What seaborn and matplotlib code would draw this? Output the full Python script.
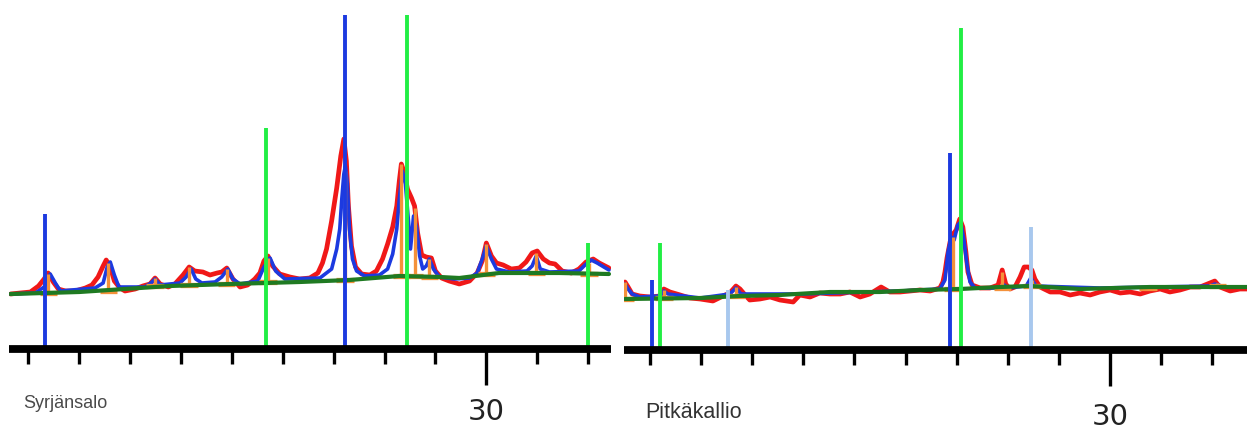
import numpy as np
import pandas as pd
import matplotlib
matplotlib.use("Agg")
import matplotlib.pyplot as plt
import seaborn as sns

sns.set_theme(style="white")
plt.rcParams['font.family'] = ['DejaVu Sans']

# ---------------- Left panel: Syrjänsalo ----------------
L_obs_x = [20.65, 20.84, 21.04, 21.20, 21.31, 21.39, 21.49, 21.59, 21.73, 21.92, 22.12, 22.25, 22.37, 22.47,
           22.53, 22.61, 22.69, 22.80, 22.90, 23.10, 23.25, 23.39, 23.49, 23.59, 23.75, 23.88, 24.04, 24.16,
           24.27, 24.43, 24.57, 24.71, 24.80, 24.90, 25.02, 25.16, 25.31, 25.45, 25.55, 25.63, 25.71, 25.80,
           25.94, 26.14, 26.33, 26.53, 26.69, 26.78, 26.86, 26.96, 27.06, 27.14, 27.20, 27.25, 27.29, 27.35,
           27.43, 27.55, 27.71, 27.84, 27.96, 28.06, 28.16, 28.24, 28.29, 28.33, 28.39, 28.45, 28.53, 28.59,
           28.65, 28.73, 28.82, 28.92, 29.00, 29.12, 29.27, 29.47, 29.67, 29.82, 29.92, 30.00, 30.10, 30.20,
           30.33, 30.49, 30.65, 30.78, 30.90, 31.00, 31.12, 31.24, 31.35, 31.49, 31.67, 31.82, 31.96, 32.10,
           32.22, 32.41]
L_obs_y = [55, 56, 57, 63, 70, 76, 67, 60, 58, 58, 61, 64, 72, 83,
           89, 82, 68, 61, 58, 60, 63, 65, 71, 65, 62, 65, 74, 82,
           78, 77, 74, 76, 77, 81, 70, 62, 64, 70, 76, 88, 93, 83,
           75, 72, 70, 71, 76, 86, 100, 128, 161, 193, 210, 188, 143, 103,
           82, 75, 74, 78, 90, 105, 122, 143, 168, 185, 176, 160, 151, 143,
           116, 94, 92, 91, 78, 71, 68, 65, 68, 76, 88, 106, 93, 86,
           84, 80, 81, 87, 96, 98, 90, 86, 85, 78, 76, 80, 87, 90,
           86, 81]

L_calc_x = [20.65, 21.14, 21.31, 21.43, 21.53, 21.63, 22.31, 22.47, 22.55, 22.61, 22.69, 22.78, 23.29, 23.41,
            23.49, 23.59, 23.98, 24.10, 24.20, 24.29, 24.41, 24.67, 24.80, 24.92, 25.02, 25.16, 25.51, 25.63,
            25.75, 25.86, 26.04, 26.73, 26.96, 27.06, 27.12, 27.16, 27.20, 27.23, 27.27, 27.31, 27.37, 27.45,
            27.61, 27.90, 28.06, 28.16, 28.24, 28.29, 28.35, 28.41, 28.47, 28.51, 28.57, 28.63, 28.69, 28.75,
            28.82, 28.88, 28.96, 29.08, 29.37, 29.67, 29.82, 29.92, 30.00, 30.10, 30.20, 30.45, 30.80, 30.90,
            30.98, 31.06, 31.24, 31.82, 31.94, 32.06, 32.18, 32.31, 32.41]
L_calc_y = [55, 56, 62, 75, 66, 58, 61, 66, 82, 87, 74, 62, 62, 66,
            70, 64, 66, 72, 80, 70, 66, 67, 72, 80, 70, 65, 68, 82,
            91, 78, 70, 71, 80, 100, 120, 150, 175, 183, 165, 120, 90, 78,
            73, 74, 80, 95, 120, 150, 178, 165, 128, 100, 133, 122, 93, 80,
            83, 90, 80, 72, 70, 71, 76, 90, 103, 90, 80, 77, 78, 83,
            93, 80, 77, 78, 84, 89, 86, 82, 79]

L_bg_x = [20.65, 22.00, 23.78, 24.96, 26.33, 27.31, 28.29, 29.08, 29.47, 30.25, 31.43, 32.41]
L_bg_y = [55, 57, 63, 65, 67, 69, 73, 72, 71, 76, 76, 75]

L_stick_x = [21.39, 22.57, 23.49, 24.16, 24.90, 25.71, 27.22, 28.33, 28.59, 28.88, 30.00, 30.98, 32.02]
L_stick_top = [75, 86, 71, 82, 80, 91, 178, 185, 141, 90, 105, 96, 86]
L_stick_base = [56, 58, 63, 64, 65, 67, 69, 73, 73, 72, 75, 76, 75]

L_ref_x = [21.33, 25.67, 27.22, 28.45, 32.00]
L_ref_top = [135, 221, 340, 340, 106]
L_ref_color = ["#1c3ae0", "#22ee44", "#1c3ae0", "#22ee44", "#22ee44"]

# ---------------- Right panel: Pitkäkallio ----------------
R_obs_x = [20.51, 20.57, 20.65, 20.80, 21.00, 21.19, 21.27, 21.39, 21.59, 21.78, 21.98, 22.23, 22.47, 22.56,
           22.68, 22.76, 22.86, 22.95, 23.15, 23.35, 23.54, 23.80, 23.93, 24.13, 24.32, 24.52, 24.72, 24.91,
           25.11, 25.30, 25.52, 25.69, 25.89, 26.09, 26.28, 26.48, 26.67, 26.73, 26.77, 26.81, 26.87, 26.93,
           26.99, 27.06, 27.12, 27.18, 27.22, 27.30, 27.46, 27.65, 27.81, 27.89, 27.96, 28.04, 28.14, 28.24,
           28.32, 28.40, 28.47, 28.53, 28.63, 28.83, 29.02, 29.22, 29.41, 29.61, 29.80, 30.00, 30.20, 30.39,
           30.59, 30.78, 30.98, 31.17, 31.37, 31.57, 31.76, 32.05, 32.15, 32.35, 32.54, 32.68]
R_obs_y = [68, 63, 56, 54, 53, 54, 61, 58, 55, 52, 51, 49, 55, 57,
           64, 61, 55, 50, 51, 53, 50, 48, 55, 53, 57, 56, 56, 58,
           53, 56, 63, 58, 58, 59, 60, 59, 62, 68, 78, 92, 108, 116,
           120, 131, 123, 98, 78, 65, 62, 62, 65, 80, 66, 61, 63, 73,
           83, 83, 80, 71, 63, 58, 58, 55, 57, 55, 58, 60, 57, 58,
           56, 59, 61, 58, 60, 63, 63, 69, 63, 59, 61, 61]

R_calc_x = [20.51, 20.57, 20.65, 20.80, 21.19, 21.27, 21.35, 21.98, 22.56, 22.68, 22.78, 23.93, 25.89, 26.67,
            26.77, 26.83, 26.89, 26.95, 27.02, 27.08, 27.14, 27.20, 27.26, 27.36, 27.85, 27.93, 28.00, 28.36,
            28.45, 28.55, 29.80, 31.96, 32.05, 32.25, 32.68]
R_calc_y = [66, 61, 56, 53, 54, 59, 56, 52, 56, 62, 56, 56, 59, 61,
            70, 98, 113, 110, 125, 128, 110, 86, 68, 62, 62, 65, 62, 64,
            72, 64, 62, 64, 66, 63, 63]

R_bg_x = [20.51, 21.98, 22.76, 23.54, 24.52, 25.50, 26.28, 27.06, 27.85, 28.43, 29.41, 30.78, 32.68]
R_bg_y = [51, 52, 54, 55, 58, 58, 60, 61, 63, 64, 61, 63, 63]

R_stick_x = [20.51, 21.27, 22.68, 26.93, 27.89, 28.47, 30.74, 32.10]
R_stick_top = [68, 60, 63, 113, 78, 70, 64, 67]
R_stick_base = [51, 52, 54, 61, 62, 64, 62, 64]

R_ref_x = [21.04, 21.19, 22.53, 26.87, 27.08, 28.45]
R_ref_top = [70, 107, 60, 197, 322, 123]
R_ref_color = ["#1c3ae0", "#22ee44", "#a8c8ee", "#1c3ae0", "#22ee44", "#a8c8ee"]

W, H = 1257, 430
fig = plt.figure(figsize=(W / 100, H / 100), dpi=100)


def panel(left_px, right_px, bottom_px, top_px, xlim, obs_x, obs_y, calc_x, calc_y, bg_x, bg_y,
          st_x, st_top, st_base, ref_x, ref_top, ref_col, lbl_dy):
    ax = fig.add_axes([left_px / W, (H - bottom_px) / H, (right_px - left_px) / W, (bottom_px - top_px) / H])
    obs = pd.DataFrame({"x": obs_x, "y": obs_y})
    calc = pd.DataFrame({"x": calc_x, "y": calc_y})
    bg = pd.DataFrame({"x": bg_x, "y": bg_y})
    sns.lineplot(data=obs, x="x", y="y", ax=ax, color="#f01818", lw=3.4, sort=False, estimator=None, zorder=1)
    sns.lineplot(data=calc, x="x", y="y", ax=ax, color="#1c3ae0", lw=2.6, sort=False, estimator=None, zorder=2)
    ax.vlines(st_x, st_base, st_top, color="#f4913a", lw=2.4, zorder=3)
    ax.hlines(st_base, np.array(st_x) - 0.17, np.array(st_x) + 0.17, color="#f4913a", lw=3.8, zorder=3)
    sns.lineplot(data=bg, x="x", y="y", ax=ax, color="#1f7a22", lw=3.0, sort=False, estimator=None, zorder=4)
    for xv, tv, cv in zip(ref_x, ref_top, ref_col):
        ax.vlines(xv, 0, tv, color=cv, lw=2.8, zorder=5)
    ax.set_xlim(*xlim)
    ax.set_ylim(0, 334)
    for s in ("top", "left", "right"):
        ax.spines[s].set_visible(False)
    ax.spines["bottom"].set_linewidth(5.6)
    ax.spines["bottom"].set_color("black")
    ax.spines["bottom"].set_capstyle("butt")
    ax.spines["bottom"].set_zorder(6)
    ax.set_yticks([])
    ax.set_xticks([30])
    ax.set_xticklabels(["30"])
    ax.set_xticks(list(range(21, 33)), minor=True)
    ax.tick_params(axis="x", which="major", direction="out", length=26, width=2.4, color="black",
                   labelsize=21, pad=9 + lbl_dy, labelcolor="#222222", bottom=True)
    ax.tick_params(axis="x", which="minor", direction="out", length=10.5, width=2.4, color="black", bottom=True)
    ax.set_xlabel("")
    ax.set_ylabel("")
    ax.patch.set_alpha(0)
    return ax


panel(9, 611, 349, 15, (20.62, 32.45), L_obs_x, L_obs_y, L_calc_x, L_calc_y, L_bg_x, L_bg_y,
      L_stick_x, L_stick_top, L_stick_base, L_ref_x, L_ref_top, L_ref_color, 0)
panel(624, 1247, 350, 16, (20.49, 32.68), R_obs_x, R_obs_y, R_calc_x, R_calc_y, R_bg_x, R_bg_y,
      R_stick_x, R_stick_top, R_stick_base, R_ref_x, R_ref_top, R_ref_color, 3)

fig.text(23 / W, (H - 408) / H, "Syrjänsalo", fontsize=13, color="#4a4a4a", family=["Liberation Sans", "DejaVu Sans"],
         va="baseline", ha="left")
fig.text(645 / W, (H - 418) / H, "Pitkäkallio", fontsize=15.5, color="#333333", family=["Liberation Sans", "DejaVu Sans"],
         va="baseline", ha="left")

fig.savefig("out.png", dpi=100, facecolor="white")
